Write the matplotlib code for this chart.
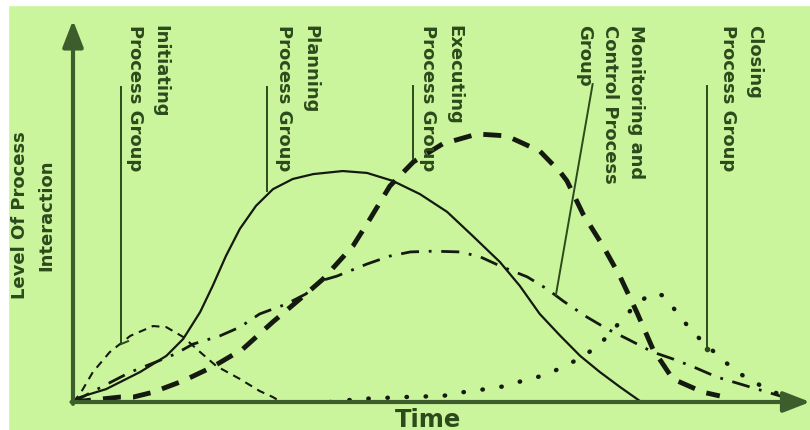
import matplotlib
matplotlib.use("Agg")
import matplotlib.pyplot as plt
from matplotlib.patches import Rectangle

# curves (time 0-100, level 0-100)
init_t = [0, 0.95, 2.7, 5.0, 7.8, 10.9, 12.7, 15.0, 17.3, 19.5, 22.7, 25.4, 27.2, 28.3]
init_v = [0, 2.1, 7.9, 13.2, 17.5, 20.1, 19.8, 17.2, 13.2, 9.5, 6.1, 2.9, 1.3, 0]

plan_t = [0, 0.95, 4.5, 9.1, 12.7, 15.0, 17.3, 19.0, 20.8, 22.7, 24.9, 27.2,
          29.9, 32.7, 36.7, 40.0, 43.5, 47.2, 50.9, 54.4, 58.1, 60.8, 63.5,
          66.3, 69.0, 71.7, 74.4, 77.1]
plan_v = [0, 1.3, 3.4, 7.9, 12.2, 16.7, 23.8, 30.7, 38.6, 45.8, 51.9, 56.3,
          59.0, 60.3, 61.1, 60.6, 58.5, 55.0, 50.3, 43.9, 37.0, 30.7, 23.3,
          17.5, 12.2, 7.9, 4.0, 0.3]

exec_t = [0, 6.4, 8.2, 10.9, 15.0, 19.0, 23.1, 27.2, 31.7, 34.0, 38.1, 40.4,
          43.1, 46.3, 50.3, 55.0, 59.0, 63.5, 66.3, 67.2, 69.4, 72.1, 74.4,
          76.7, 78.9, 81.6, 85.7, 88.0]
exec_v = [0, 1.3, 1.3, 2.6, 5.6, 9.3, 14.0, 21.2, 28.6, 32.5, 41.3, 48.4,
          57.1, 63.5, 68.3, 70.9, 70.4, 66.4, 60.8, 58.5, 49.7, 41.3, 33.3,
          23.8, 14.0, 6.1, 2.6, 1.6]

mon_t = [0, 4.1, 7.8, 11.3, 13.9, 16.3, 20.0, 22.7, 25.4, 29.0, 31.7, 33.6,
         35.9, 40.0, 43.1, 45.9, 49.0, 52.7, 55.4, 58.1, 61.8, 64.5, 66.7,
         69.9, 72.7, 75.4, 78.9, 81.6, 84.4, 87.6, 90.7, 93.1, 96.2, 97.6]
mon_v = [0, 4.2, 7.9, 10.6, 12.7, 15.3, 17.5, 19.8, 23.3, 25.9, 28.6, 32.0,
         33.3, 36.5, 38.6, 39.7, 39.9, 39.7, 38.4, 36.0, 33.1, 29.9, 26.7,
         22.5, 19.3, 16.7, 13.2, 11.4, 9.3, 6.6, 4.8, 3.4, 1.6, 0]

close_t = [35.0, 39.0, 44.9, 50.3, 53.1, 56.1, 58.8, 61.5, 64.2, 66.7, 69.3,
           71.7, 75.8, 78.1, 79.3, 80.5, 82.3, 84.4, 88.7, 91.2, 93.7, 96.2, 98.9]
close_v = [0, 0.8, 1.3, 1.6, 2.6, 3.4, 4.2, 5.8, 7.1, 9.3, 11.9,
           15.3, 24.1, 28.0, 28.8, 28.0, 23.3, 18.3, 10.6, 6.9, 4.2, 1.9, 0]

labels = ["Initiating\nProcess Group", "Planning\nProcess Group",
          "Executing\nProcess Group", "Monitoring and\nControl Process\nGroup",
          "Closing\nProcess Group"]
label_x = [10.2, 30.5, 50.1, 73.1, 90.9]
# leader lines: (x top, y top, x bottom, y bottom)
lead_x0 = [6.5, 26.4, 46.3, 70.7, 86.3]
lead_y0 = [83.3, 83.3, 83.6, 84.1, 83.6]
lead_x1 = [6.5, 26.4, 46.3, 65.7, 86.3]
lead_y1 = [15.3, 55.8, 64.3, 28.3, 14.0]

bg = "#cbf59c"
green = "#3d5e2c"
txt = "#2c4a1c"
ink = "#151a10"

fig = plt.figure(figsize=(8.1, 4.31), dpi=100)
fig.patch.set_facecolor(bg)
fig.add_artist(Rectangle((0, 0), 8 / 810, 1, transform=fig.transFigure,
                         color="white", zorder=0))
fig.add_artist(Rectangle((0, 1 - 6 / 431), 1, 6 / 431, transform=fig.transFigure,
                         color="white", zorder=0))

ax = fig.add_axes([73 / 810, 28 / 431, 735 / 810, 378 / 431])
ax.set_xlim(0, 100)
ax.set_ylim(0, 100)
ax.axis("off")

ax.plot(init_t, init_v, color=ink, lw=1.5, ls=(0, (3.8, 2.9)))
ax.plot(plan_t, plan_v, color=ink, lw=1.6)
ax.plot(exec_t, exec_v, color=ink, lw=3.5, ls=(0, (3.7, 2.5)))
ax.plot(mon_t, mon_v, color=ink, lw=2.0, ls=(0, (6.5, 3.5, 1, 3.5)))
ax.plot(close_t, close_v, color=ink, lw=3.2, ls=(0, (0.1, 4.2)),
        dash_capstyle="round")

# axes with arrows
ax.annotate("", xy=(0, 101), xytext=(0, -0.5),
            arrowprops=dict(arrowstyle="-|>,head_length=0.9,head_width=0.35",
                            lw=3, color=green, shrinkA=0, shrinkB=0,
                            mutation_scale=18), annotation_clip=False)
ax.annotate("", xy=(100.3, 0), xytext=(-0.2, 0),
            arrowprops=dict(arrowstyle="-|>,head_length=0.9,head_width=0.35",
                            lw=3, color=green, shrinkA=0, shrinkB=0,
                            mutation_scale=18), annotation_clip=False)

for i in range(len(labels)):
    ax.plot([lead_x0[i], lead_x1[i]], [lead_y0[i], lead_y1[i]],
            color=txt, lw=1.4, clip_on=False)
    ax.text(label_x[i], 100, labels[i], rotation=270, ha="center", va="top",
            multialignment="left", fontsize=13, fontweight="bold",
            color=txt, linespacing=1.55, clip_on=False)
ax.plot([6.5, 7.5], [15.3, 16.1], color=txt, lw=1.4, clip_on=False)
ax.plot([86.3], [14.0], "o", color=txt, ms=3, clip_on=False)

ax.text(-5.4, 49.7, "Level Of Process\nInteraction", rotation=90,
        ha="center", va="center", fontsize=13, fontweight="bold",
        color=txt, linespacing=1.55)
ax.text(48.3, -4.5, "Time", ha="center", va="center", fontsize=17.5,
        fontweight="bold", color=txt)

plt.savefig("out.png", dpi=100, facecolor=fig.get_facecolor())
